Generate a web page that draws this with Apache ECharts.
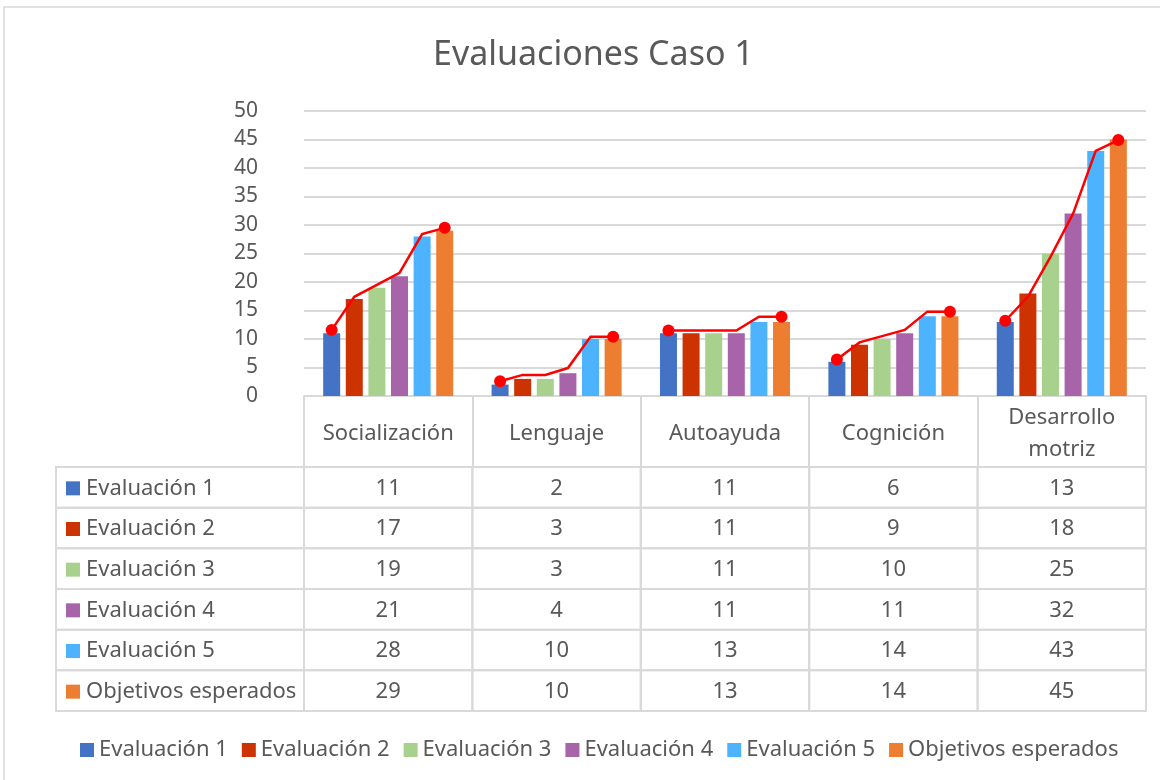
<!DOCTYPE html>
<html>
<head>
<meta charset="utf-8">
<script src="https://cdn.jsdelivr.net/npm/echarts@6/dist/echarts.min.js"></script>
<style>
  html, body { margin: 0; padding: 0; background: #fff; }
  #main { width: 1160px; height: 780px; }
</style>
</head>
<body>
<div id="main"></div>
<script>
var categories = ['Socialización', 'Lenguaje', 'Autoayuda', 'Cognición', 'Desarrollo motriz'];
var seriesNames = ['Evaluación 1', 'Evaluación 2', 'Evaluación 3', 'Evaluación 4', 'Evaluación 5', 'Objetivos esperados'];

var eval1 = [11, 2, 11, 6, 13];
var eval2 = [17, 3, 11, 9, 18];
var eval3 = [19, 3, 11, 10, 25];
var eval4 = [21, 4, 11, 11, 32];
var eval5 = [28, 10, 13, 14, 43];
var objetivos = [29, 10, 13, 14, 45];

// red hand drawn line, one point per bar
var lineSocial = [11.6, 17.4, 19.5, 21.6, 28.4, 29.5];
var lineLenguaje = [2.6, 3.7, 3.7, 4.9, 10.4, 10.4];
var lineAutoayuda = [11.5, 11.5, 11.5, 11.5, 13.9, 13.9];
var lineCognicion = [6.4, 9.4, 10.5, 11.6, 14.8, 14.8];
var lineMotriz = [13.2, 17.4, 24.4, 32.0, 43.0, 44.9];

var colors = ['#4472C4', '#CC3300', '#A9D18E', '#A864A8', '#4DB3FF', '#ED7D31'];
var textColor = '#595959';
var lineColor = '#d9d9d9';
var font = '"Noto Sans", "Open Sans", sans-serif';

var rows = [eval1, eval2, eval3, eval4, eval5, objetivos];
var redLines = [lineSocial, lineLenguaje, lineAutoayuda, lineCognicion, lineMotriz];

var barW = 17;
var barStep = barW * 1.33;

var series = [];
for (var i = 0; i < rows.length; i++) {
    series.push({
        name: seriesNames[i],
        type: 'bar',
        xAxisIndex: 0,
        yAxisIndex: 0,
        barWidth: barW,
        barGap: '33%',
        itemStyle: { color: colors[i] },
        data: rows[i]
    });
}

// red line over the bars
series.push({
    type: 'custom',
    xAxisIndex: 0,
    yAxisIndex: 0,
    z: 10,
    silent: true,
    encode: { x: 0, y: [1, 2, 3, 4, 5, 6] },
    data: redLines.map(function (l, c) { return [c].concat(l); }),
    renderItem: function (params, api) {
        var c = api.value(0);
        var cx = api.coord([c, 0])[0];
        var pts = [];
        for (var k = 0; k < 6; k++) {
            var y = api.coord([c, api.value(k + 1)])[1];
            pts.push([cx + (k - 2.5) * barStep, y]);
        }
        return {
            type: 'group',
            children: [
                { type: 'polyline', shape: { points: pts }, style: { stroke: '#ff0000', lineWidth: 2.5, fill: null } },
                { type: 'circle', shape: { cx: pts[0][0], cy: pts[0][1], r: 6 }, style: { fill: '#ff0000' } },
                { type: 'circle', shape: { cx: pts[5][0], cy: pts[5][1], r: 6 }, style: { fill: '#ff0000' } }
            ]
        };
    }
});

// data table cells
var cellData = [];
for (var r = 0; r < rows.length; r++) {
    for (var c = 0; c < categories.length; c++) {
        cellData.push([c, r, rows[r][c]]);
    }
}
series.push({
    type: 'custom',
    xAxisIndex: 1,
    yAxisIndex: 1,
    silent: true,
    data: cellData,
    renderItem: function (params, api) {
        var p = api.coord([api.value(0), api.value(1)]);
        var s = api.size([1, 1]);
        return {
            type: 'group',
            children: [
                { type: 'rect', shape: { x: p[0] - s[0] / 2, y: p[1] - s[1] / 2, width: s[0], height: s[1] },
                  style: { fill: null, stroke: lineColor, lineWidth: 2 } },
                { type: 'text', style: { text: String(api.value(2)), x: p[0], y: p[1] + 1, align: 'center', verticalAlign: 'middle',
                  fill: textColor, font: '22px ' + font } }
            ]
        };
    }
});

// table left column with legend keys
series.push({
    type: 'custom',
    xAxisIndex: 1,
    yAxisIndex: 1,
    silent: true,
    data: seriesNames.map(function (n, r) { return [0, r]; }),
    renderItem: function (params, api) {
        var r = api.value(1);
        var p = api.coord([0, r]);
        var h = api.size([1, 1])[1];
        var left = 56, right = 304;
        return {
            type: 'group',
            children: [
                { type: 'rect', shape: { x: left, y: p[1] - h / 2, width: right - left, height: h },
                  style: { fill: null, stroke: lineColor, lineWidth: 2 } },
                { type: 'rect', shape: { x: 66, y: p[1] - 6, width: 14, height: 14 }, style: { fill: colors[r] } },
                { type: 'text', style: { text: seriesNames[r], x: 86, y: p[1] + 1, align: 'left', verticalAlign: 'middle',
                  fill: textColor, font: '22px ' + font } }
            ]
        };
    }
});

var option = {
    animation: false,
    backgroundColor: '#fff',
    title: {
        text: 'Evaluaciones Caso 1',
        left: 433,
        top: 38,
        padding: 0,
        textStyle: { color: textColor, fontSize: 34, fontWeight: 'normal', fontFamily: font }
    },
    legend: {
        data: seriesNames,
        left: 80,
        top: 739,
        padding: 0,
        icon: 'rect',
        itemWidth: 14,
        itemHeight: 14,
        itemGap: 14,
        textStyle: { color: textColor, fontSize: 22, fontFamily: font }
    },
    graphic: [{
        type: 'rect',
        silent: true,
        shape: { x: 4, y: 7, width: 1200, height: 800 },
        style: { fill: null, stroke: lineColor, lineWidth: 1.5 }
    }],
    grid: [
        { left: 304, right: 14, top: 111, bottom: 384 },
        { left: 304, right: 14, top: 467, bottom: 69 }
    ],
    xAxis: [{
        type: 'category',
        gridIndex: 0,
        data: categories,
        axisLine: { lineStyle: { color: lineColor, width: 2 } },
        axisTick: { show: true, interval: 0, length: 71, lineStyle: { color: lineColor, width: 2 } },
        axisLabel: {
            interval: 0,
            margin: 38,
            verticalAlign: 'middle',
            lineHeight: 32,
            color: textColor,
            fontSize: 22,
            fontFamily: font,
            formatter: function (v) { return v.length > 14 ? v.replace(' ', '\n') : v; }
        }
    }, {
        type: 'category',
        gridIndex: 1,
        data: categories,
        show: false
    }],
    yAxis: [{
        type: 'value',
        gridIndex: 0,
        min: 0,
        max: 50,
        interval: 5,
        axisLine: { show: false },
        axisTick: { show: false },
        splitLine: { lineStyle: { color: lineColor, width: 2 } },
        axisLabel: { margin: 46, color: textColor, fontSize: 21, fontFamily: font }
    }, {
        type: 'category',
        gridIndex: 1,
        data: seriesNames,
        inverse: true,
        show: false
    }],
    series: series
};

var chart = echarts.init(document.getElementById('main'));
chart.setOption(option);
</script>
</body>
</html>
